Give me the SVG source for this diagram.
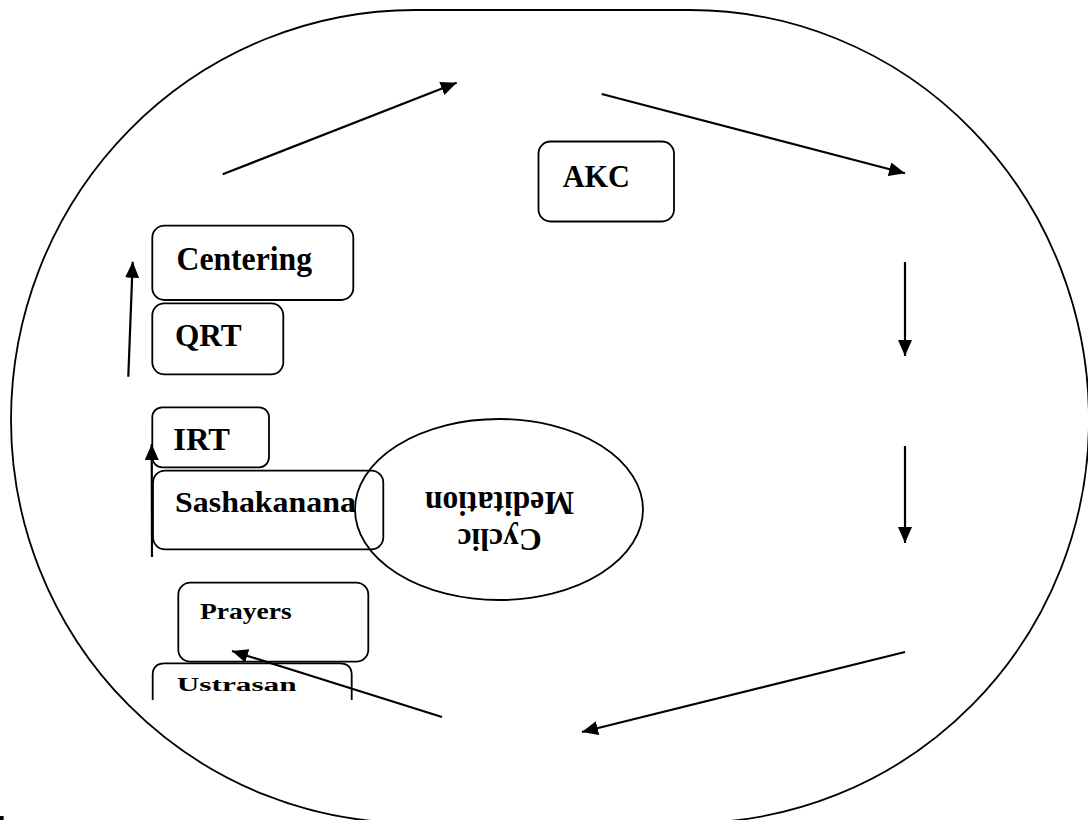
<svg xmlns="http://www.w3.org/2000/svg" width="1088" height="820" viewBox="0 0 1088 820">
<style>
.box{fill:none;stroke:#000;stroke-width:1.8}
.lbl{font-family:"Liberation Serif","Times New Roman",serif;font-weight:bold;fill:#000}
.con{stroke:#000;stroke-width:2.2;fill:none;marker-end:url(#ah)}
</style>
<defs>
<marker id="ah" markerUnits="userSpaceOnUse" markerWidth="16" markerHeight="14" refX="16" refY="7" orient="auto">
<path d="M0,0 L16,7 L0,14 Z" fill="#000"/>
</marker>
</defs>
<rect width="1088" height="820" fill="#fff"/>
<g id="outer">
<path class="box" stroke-width="2.2" d="M415,10 L690,10 A399,410 0 0 1 1089,420 A399,403 0 0 1 690,823 L412,823 A401,403 0 0 1 11,420 A404,410 0 0 1 415,10 Z"/>
</g>
<g id="akc">
<rect class="box" x="538.5" y="141.5" width="135.5" height="80" rx="12"/>
<text class="lbl" x="562.7" y="186.7" font-size="32" textLength="67.3" lengthAdjust="spacingAndGlyphs">AKC</text>
</g>
<g id="centering">
<rect class="box" x="152.3" y="225.7" width="201" height="74.3" rx="12"/>
<text class="lbl" x="176.5" y="270" font-size="33" textLength="135.5" lengthAdjust="spacingAndGlyphs">Centering</text>
</g>
<g id="qrt">
<rect class="box" x="152.3" y="303.3" width="131" height="71" rx="12"/>
<text class="lbl" x="175" y="346" font-size="32" textLength="66.7" lengthAdjust="spacingAndGlyphs">QRT</text>
</g>
<g id="irt">
<rect class="box" x="152.3" y="407.3" width="116.7" height="60" rx="10"/>
<text class="lbl" x="173.3" y="450" font-size="32" textLength="56.7" lengthAdjust="spacingAndGlyphs">IRT</text>
</g>
<g id="sashakanana">
<rect class="box" x="153" y="470.7" width="230.3" height="78.6" rx="12"/>
<text class="lbl" x="175" y="512" font-size="30" textLength="181" lengthAdjust="spacingAndGlyphs">Sashakanana</text>
</g>
<g id="cyclic">
<ellipse class="box" cx="499" cy="509.5" rx="144" ry="90.5"/>
<g transform="rotate(180 499.5 510)">
<text class="lbl" x="499.5" y="491" font-size="32" text-anchor="middle" textLength="84.3" lengthAdjust="spacingAndGlyphs">Cyclic</text>
<text class="lbl" x="499.5" y="528.3" font-size="33" text-anchor="middle" textLength="149" lengthAdjust="spacingAndGlyphs">Meditation</text>
</g>
</g>
<g id="prayers">
<rect class="box" x="178.3" y="582.7" width="190" height="79" rx="12"/>
<text class="lbl" x="200" y="619.3" font-size="23" textLength="91.7" lengthAdjust="spacingAndGlyphs">Prayers</text>
</g>
<g id="ustrasan">
<path class="box" d="M152.7,700 V675 Q152.7,663.3 164.7,663.3 H339.7 Q351.7,663.3 351.7,675 V700"/>
<text class="lbl" x="176.7" y="690.7" font-size="18" textLength="120" lengthAdjust="spacingAndGlyphs">Ustrasan</text>
</g>
<g id="cut-text">
<text class="lbl" x="-3" y="838" font-size="31">lt</text>
</g>
<g id="connectors">
<line class="con" x1="222.7" y1="174.3" x2="456.7" y2="82.7"/>
<line class="con" x1="601.7" y1="94" x2="905" y2="173.3"/>
<line class="con" x1="905" y1="262" x2="905" y2="356"/>
<line class="con" x1="905" y1="446" x2="905" y2="543"/>
<line class="con" x1="905" y1="652" x2="582" y2="732"/>
<line class="con" x1="442" y1="717" x2="232" y2="651"/>
<line class="con" x1="152" y1="557" x2="151.7" y2="444"/>
<line class="con" x1="128.3" y1="376.7" x2="132.7" y2="261.7"/>
</g>
</svg>
